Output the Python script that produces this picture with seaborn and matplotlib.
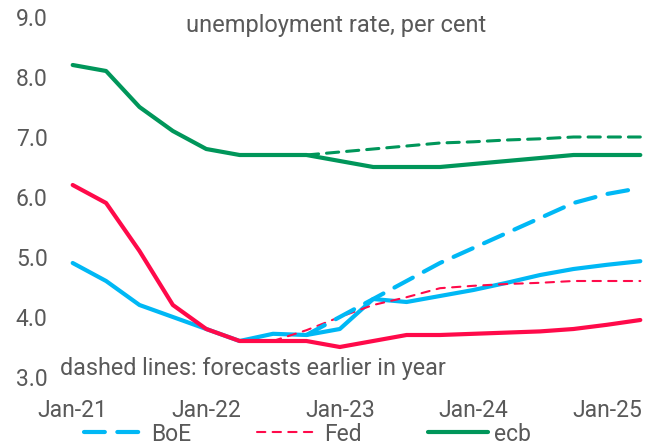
import numpy as np
import pandas as pd
import matplotlib
matplotlib.use("Agg")
import matplotlib.pyplot as plt
import seaborn as sns

# ---- data ----
quarters = ["Jan-21", "Apr-21", "Jul-21", "Oct-21", "Jan-22", "Apr-22", "Jul-22", "Oct-22",
            "Jan-23", "Apr-23", "Jul-23", "Oct-23", "Jan-24", "Apr-24", "Jul-24", "Oct-24",
            "Jan-25", "Apr-25"]
tick_labels = ["Jan-21", "Jan-22", "Jan-23", "Jan-24", "Jan-25"]

ecb = [8.2, 8.1, 7.5, 7.1, 6.8, 6.7, 6.7, 6.7, 6.6, 6.5, 6.5, 6.5, 6.55, 6.6, 6.65, 6.7, 6.7, 6.7]
ecb_fc = [np.nan] * 7 + [6.7, 6.75, 6.8, 6.85, 6.9, 6.92, 6.95, 6.97, 7.0, 7.0, 7.0]
fed = [6.2, 5.9, 5.1, 4.2, 3.8, 3.6, 3.6, 3.6, 3.5, 3.6, 3.7, 3.7, 3.72, 3.74, 3.76, 3.8, 3.87, 3.95]
fed_fc = [np.nan] * 6 + [3.6, 3.78, 4.0, 4.2, 4.33, 4.48, 4.52, 4.55, 4.57, 4.6, 4.6, 4.6]
boe = [4.9, 4.6, 4.2, 4.0, 3.8, 3.6, 3.72, 3.7, 3.8, 4.3, 4.25, 4.35, 4.45, 4.57, 4.7, 4.8, 4.87, 4.93]
boe_fc = [np.nan] * 7 + [3.7, 4.0, 4.3, 4.6, 4.9, 5.15, 5.4, 5.65, 5.9, 6.05, 6.15]

BLUE = "#00B8F5"
RED = "#FF0A4A"
GREEN = "#00965A"
TXT = "#595959"

df = pd.DataFrame({"q": quarters, "pos": np.arange(len(quarters)),
                   "ecb": ecb, "ecb_fc": ecb_fc, "fed": fed, "fed_fc": fed_fc,
                   "boe": boe, "boe_fc": boe_fc})

sns.set_style("white")
plt.rcParams["font.family"] = ["Roboto", "DejaVu Sans"]

fig = plt.figure(figsize=(6.62, 4.48), dpi=100)
ax = fig.add_axes([56 / 662, 1 - 377 / 448, (657 - 56) / 662, 360 / 448])

sns.lineplot(data=df, x="pos", y="ecb_fc", ax=ax, color=GREEN, lw=2.2,
             label="_nolegend_").lines[-1].set_dashes([4, 2.6])
sns.lineplot(data=df, x="pos", y="ecb", ax=ax, color=GREEN, lw=3.0, label="ecb")
sns.lineplot(data=df, x="pos", y="boe", ax=ax, color=BLUE, lw=3.0, label="_nolegend_")
sns.lineplot(data=df, x="pos", y="fed", ax=ax, color=RED, lw=3.0, label="_nolegend_")
sns.lineplot(data=df, x="pos", y="fed_fc", ax=ax, color=RED, lw=1.5, label="Fed").lines[-1].set_dashes([4, 3.5])
sns.lineplot(data=df, x="pos", y="boe_fc", ax=ax, color=BLUE, lw=3.0, label="BoE").lines[-1].set_dashes([5, 3])

for ln in ax.lines:
    ln.set_solid_capstyle("round")
    ln.set_dash_capstyle("round")

ax.set_xlim(-0.5, len(quarters) - 0.5)
ax.set_ylim(3.0, 9.0)
ax.set_yticks(np.arange(3.0, 9.01, 1.0))
ax.set_yticklabels([f"{v:.1f}" for v in np.arange(3.0, 9.01, 1.0)])
ax.set_xticks([quarters.index(t) for t in tick_labels])
ax.set_xticklabels(tick_labels)
ax.tick_params(axis="both", length=0, labelsize=16.5, colors=TXT)
ax.tick_params(axis="x", pad=15.5)
ax.tick_params(axis="y", pad=6)
ax.set_xlabel("")
ax.set_ylabel("")
for s in ax.spines.values():
    s.set_visible(False)

ax.text(0.466, 0.975, "unemployment rate, per cent", transform=ax.transAxes,
        ha="center", va="center", fontsize=17, color=TXT)
ax.text(0.007, 0.025, "dashed lines: forecasts earlier in year", transform=ax.transAxes,
        ha="left", va="center", fontsize=16.8, color=TXT)

handles, labels = ax.get_legend_handles_labels()
order = [labels.index(n) for n in ["BoE", "Fed", "ecb"]]
ax.legend_.remove()
leg = fig.legend([handles[i] for i in order], [labels[i] for i in order],
                 loc="center", bbox_to_anchor=(0.465, 14 / 448), ncol=3, frameon=False,
                 fontsize=16.5, handlelength=2.6, columnspacing=2.9, handletextpad=0.3,
                 borderpad=0)
for t in leg.get_texts():
    t.set_color(TXT)

fig.savefig("out.png", dpi=100)
